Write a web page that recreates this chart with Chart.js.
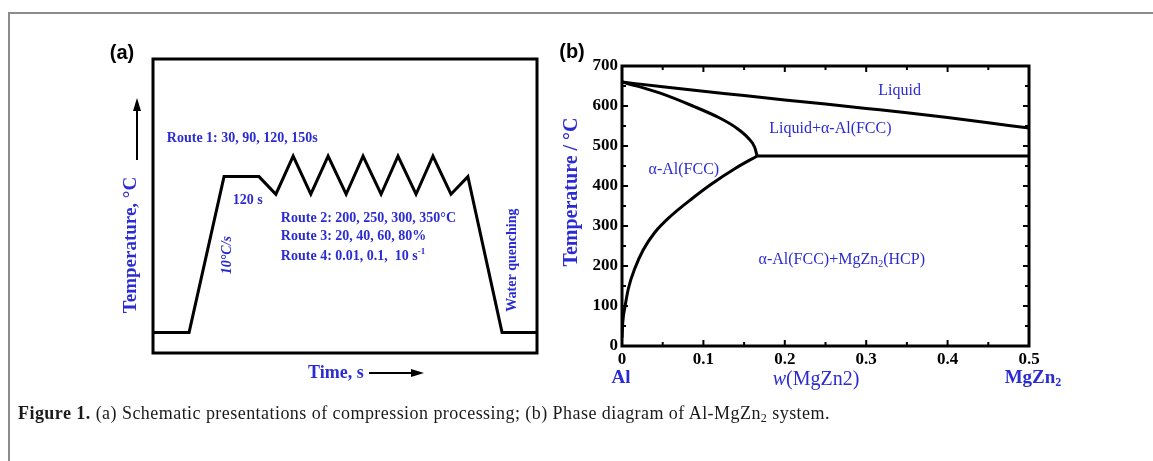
<!DOCTYPE html>
<html>
<head>
<meta charset="utf-8">
<script src="https://cdn.jsdelivr.net/npm/chart.js@4.4.0/dist/chart.umd.min.js"></script>
<style>
  html, body { margin: 0; padding: 0; background: #fff; width: 1153px; height: 461px; overflow: hidden; }
  body { position: relative; }
  #frame { position: absolute; left: 8px; top: 12px; width: 1200px; height: 500px;
           border-left: 2px solid #8c8c8c; border-top: 2px solid #8c8c8c; }
  canvas { position: absolute; }
  #chartA { left: 100px; top: 20px; }
  #chartB { left: 540px; top: 30px; }
  #caption { position: absolute; left: 18px; top: 403px; white-space: nowrap; letter-spacing: 0.45px;
             font: 18px "Liberation Serif", "Times New Roman", serif; color: #1a1a1a; }
  #caption sub { font-size: 12px; vertical-align: -3px; line-height: 0; }
</style>
</head>
<body>
<div id="frame"></div>
<canvas id="chartA" width="460" height="380"></canvas>
<canvas id="chartB" width="560" height="380"></canvas>
<div id="caption"><b>Figure 1.</b> (a) Schematic presentations of compression processing; (b) Phase diagram of Al-MgZn<sub>2</sub> system.</div>

<script>
// (a) schematic processing route (arbitrary time / temperature units)
const timeA = [0, 9.4, 18.5, 27.6, 32, 36.5, 41.1, 45.6, 50.3, 54.7, 59.4, 63.8, 68.5, 72.9, 77.6, 82, 90.9, 100];
const tempA = [7, 7, 60, 60, 54, 67, 54, 67, 54, 67, 54, 67, 54, 67, 54, 60, 7, 7];

// (b) Al-MgZn2 phase diagram, w(MgZn2) vs temperature
const liquidusW = [0, 0.05, 0.1, 0.15, 0.2, 0.25, 0.3, 0.35, 0.4, 0.45, 0.5];
const liquidusT = [660, 648, 637, 626, 615, 605, 594, 583, 571, 558, 545];
const solidusW = [0, 0.02, 0.047, 0.087, 0.12, 0.14, 0.155, 0.163, 0.166];
const solidusT = [660, 649, 632, 600, 570, 546, 520, 497, 475];
const solvusW = [0, 0.001, 0.004, 0.008, 0.016, 0.026, 0.04, 0.06, 0.087, 0.11, 0.14, 0.166];
const solvusT = [20, 60, 102, 145, 195, 240, 283, 325, 370, 405, 445, 475];
const eutecticW = [0.166, 0.5];
const eutecticT = [475, 475];

const wTicks = [0, 0.1, 0.2, 0.3, 0.4, 0.5];
const tempTicks = [0, 100, 200, 300, 400, 500, 600, 700];

const BLUE = '#2b2bd3';
const SERIF = '"Liberation Serif", "Times New Roman", serif';
const SANS = '"Liberation Sans", Arial, sans-serif';

const pts = (xs, ys) => xs.map((x, i) => ({ x: x, y: ys[i] }));

// draws text made of parts: [string, style] with style '', 'i', 'sub', 'sup'
function rich(ctx, parts, x, y, size, weight, color, align, rot) {
  const fontFor = (st) => {
    const s = (st === 'sub' || st === 'sup') ? Math.round(size * 0.62) : size;
    return (st === 'i' ? 'italic ' : '') + weight + ' ' + s + 'px ' + SERIF;
  };
  let total = 0;
  parts.forEach(p => { ctx.font = fontFor(p[1]); total += ctx.measureText(p[0]).width; });
  ctx.save();
  ctx.translate(x, y);
  if (rot) ctx.rotate(rot);
  ctx.fillStyle = color;
  ctx.textBaseline = 'middle';
  ctx.textAlign = 'left';
  let cx = align === 'left' ? 0 : -total / 2;
  parts.forEach(p => {
    ctx.font = fontFor(p[1]);
    let dy = 0;
    if (p[1] === 'sub') dy = size * 0.28;
    if (p[1] === 'sup') dy = -size * 0.35;
    ctx.fillText(p[0], cx, dy);
    cx += ctx.measureText(p[0]).width;
  });
  ctx.restore();
}

function arrow(ctx, x1, y1, x2, y2) {
  const a = Math.atan2(y2 - y1, x2 - x1);
  ctx.save();
  ctx.strokeStyle = '#000';
  ctx.fillStyle = '#000';
  ctx.lineWidth = 2;
  ctx.beginPath();
  ctx.moveTo(x1, y1);
  ctx.lineTo(x2 - 8 * Math.cos(a), y2 - 8 * Math.sin(a));
  ctx.stroke();
  ctx.beginPath();
  ctx.moveTo(x2, y2);
  ctx.lineTo(x2 - 13 * Math.cos(a) + 4 * Math.sin(a), y2 - 13 * Math.sin(a) - 4 * Math.cos(a));
  ctx.lineTo(x2 - 13 * Math.cos(a) - 4 * Math.sin(a), y2 - 13 * Math.sin(a) + 4 * Math.cos(a));
  ctx.closePath();
  ctx.fill();
  ctx.restore();
}

const decorA = {
  id: 'decorA',
  afterDraw(chart) {
    const { ctx, chartArea: ca, scales } = chart;
    const px = v => scales.x.getPixelForValue(v);
    const py = v => scales.y.getPixelForValue(v);
    ctx.save();
    ctx.strokeStyle = '#000';
    ctx.lineWidth = 3;
    ctx.strokeRect(ca.left, ca.top, ca.right - ca.left, ca.bottom - ca.top);

    ctx.fillStyle = '#000';
    ctx.font = 'bold 20px ' + SANS;
    ctx.textAlign = 'center';
    ctx.textBaseline = 'middle';
    ctx.fillText('(a)', 22, 33);

    rich(ctx, [['Temperature, °C', '']], 31, 225, 19, 'bold', BLUE, 'center', -Math.PI / 2);
    arrow(ctx, 37, 140, 37, 78);
    rich(ctx, [['Time, s', '']], 208, 353, 18, 'bold', BLUE, 'left');
    arrow(ctx, 269, 353, 324, 353);

    rich(ctx, [['Route 1: 30, 90, 120, 150s', '']], px(3.6), py(73.1), 14, 'bold', BLUE, 'left');
    rich(ctx, [['120 s', '']], px(20.8), py(52), 14, 'bold', BLUE, 'left');
    rich(ctx, [['Route 2: 200, 250, 300, 350°C', '']], px(33.3), py(45.9), 14, 'bold', BLUE, 'left');
    rich(ctx, [['Route 3: 20, 40, 60, 80%', '']], px(33.3), py(39.8), 14, 'bold', BLUE, 'left');
    rich(ctx, [['Route 4: 0.01, 0.1,  10 s', ''], ['-1', 'sup']], px(33.3), py(32.7), 14, 'bold', BLUE, 'left');
    rich(ctx, [['10°C/s', 'i']], px(19.5), py(33.3), 14, 'bold', BLUE, 'center', -Math.PI / 2);
    rich(ctx, [['Water quenching', '']], px(93.5), py(31.6), 14, 'bold', BLUE, 'center', -Math.PI / 2);
    ctx.restore();
  }
};

new Chart(document.getElementById('chartA'), {
  type: 'scatter',
  data: {
    datasets: [{
      data: pts(timeA, tempA),
      showLine: true,
      borderColor: '#000',
      borderWidth: 3,
      borderJoinStyle: 'miter',
      pointRadius: 0,
      tension: 0
    }]
  },
  options: {
    responsive: false,
    animation: false,
    layout: { padding: { left: 53, right: 23, top: 39, bottom: 47 } },
    scales: {
      x: { type: 'linear', min: 0, max: 100, display: false },
      y: { type: 'linear', min: 0, max: 100, display: false }
    },
    plugins: { legend: { display: false }, tooltip: { enabled: false } }
  },
  plugins: [decorA]
});

const decorB = {
  id: 'decorB',
  afterDraw(chart) {
    const { ctx, chartArea: ca, scales } = chart;
    const px = v => scales.x.getPixelForValue(v);
    const py = v => scales.y.getPixelForValue(v);
    ctx.save();
    ctx.strokeStyle = '#000';
    ctx.lineWidth = 3;
    ctx.strokeRect(ca.left, ca.top, ca.right - ca.left, ca.bottom - ca.top);

    // inward tick marks on all four sides
    ctx.lineWidth = 2;
    ctx.beginPath();
    for (let t = 0; t <= 700; t += 50) {
      const len = t % 100 === 0 ? 6 : 4;
      const y = py(t);
      ctx.moveTo(ca.left, y); ctx.lineTo(ca.left + len, y);
      ctx.moveTo(ca.right, y); ctx.lineTo(ca.right - len, y);
    }
    for (let k = 0; k <= 10; k++) {
      const len = k % 2 === 0 ? 6 : 4;
      const x = px(k * 0.05);
      ctx.moveTo(x, ca.bottom); ctx.lineTo(x, ca.bottom - len);
      ctx.moveTo(x, ca.top); ctx.lineTo(x, ca.top + len);
    }
    ctx.stroke();

    ctx.fillStyle = '#000';
    ctx.font = 'bold 20px ' + SANS;
    ctx.textAlign = 'center';
    ctx.textBaseline = 'middle';
    ctx.fillText('(b)', 32, 22);

    rich(ctx, [['Temperature / °C', '']], 32, 162, 20, 'bold', BLUE, 'center', -Math.PI / 2);
    rich(ctx, [['Al', '']], 81, 348, 19, 'bold', BLUE, 'center');
    rich(ctx, [['w', 'i'], ['(MgZn2)', '']], 276, 350, 20, 'normal', BLUE, 'center');
    rich(ctx, [['MgZn', ''], ['2', 'sub']], 493, 348, 19, 'bold', BLUE, 'center');

    rich(ctx, [['Liquid', '']], px(0.341), py(637), 16, 'normal', BLUE, 'center');
    rich(ctx, [['Liquid+α-Al(FCC)', '']], px(0.256), py(542), 16, 'normal', BLUE, 'center');
    rich(ctx, [['α-Al(FCC)', '']], px(0.076), py(440), 16, 'normal', BLUE, 'center');
    rich(ctx, [['α-Al(FCC)+MgZn', ''], ['2', 'sub'], ['(HCP)', '']], px(0.270), py(215), 16, 'normal', BLUE, 'center');
    ctx.restore();
  }
};

const curve = (xs, ys, smooth) => ({
  data: pts(xs, ys),
  showLine: true,
  borderColor: '#000',
  borderWidth: 3,
  pointRadius: 0,
  cubicInterpolationMode: smooth ? 'monotone' : 'default',
  tension: 0
});

const tickFont = { family: SERIF, size: 17, weight: 'bold' };

new Chart(document.getElementById('chartB'), {
  type: 'scatter',
  data: {
    datasets: [
      curve(liquidusW, liquidusT, true),
      curve(solidusW, solidusT, true),
      curve(solvusW, solvusT, true),
      curve(eutecticW, eutecticT, false)
    ]
  },
  options: {
    responsive: false,
    animation: false,
    layout: { padding: { left: 0, right: 71, top: 36, bottom: 0 } },
    scales: {
      x: {
        type: 'linear', min: 0, max: 0.5, position: 'bottom',
        afterBuildTicks: s => { s.ticks = wTicks.map(v => ({ value: v })); },
        afterFit: s => { s.height = 64; },
        grid: { display: false, drawTicks: false },
        border: { display: false },
        ticks: { font: tickFont, color: '#000', padding: 3, maxRotation: 0, autoSkip: false,
                 callback: v => String(v) }
      },
      y: {
        type: 'linear', min: 0, max: 700,
        afterBuildTicks: s => { s.ticks = tempTicks.map(v => ({ value: v })); },
        afterFit: s => { s.width = 82; },
        grid: { display: false, drawTicks: false },
        border: { display: false },
        ticks: { font: tickFont, color: '#000', padding: 4, autoSkip: false,
                 callback: v => String(v) }
      }
    },
    plugins: { legend: { display: false }, tooltip: { enabled: false } }
  },
  plugins: [decorB]
});
</script>
</body>
</html>
